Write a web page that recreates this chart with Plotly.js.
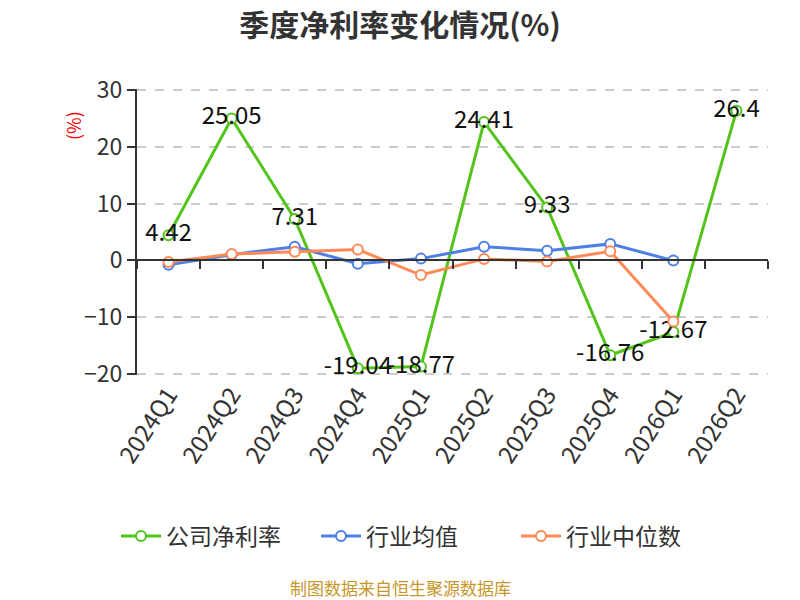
<!DOCTYPE html>
<html>
<head>
<meta charset="utf-8">
<script src="https://cdn.plot.ly/plotly-3.0.1.min.js"></script>
<style>
  html, body { margin: 0; padding: 0; background: #ffffff; }
  #chart { width: 800px; height: 600px; }
</style>
</head>
<body>
<div id="chart"></div>
<script>
  // Quarterly net margin data (%)
  var quarters = ['2024Q1', '2024Q2', '2024Q3', '2024Q4', '2025Q1', '2025Q2', '2025Q3', '2025Q4', '2026Q1', '2026Q2'];
  var companyMargin = [4.42, 25.05, 7.31, -19.04, -18.77, 24.41, 9.33, -16.76, -12.67, 26.4];
  var industryMean = [-0.8, 1.0, 2.4, -0.6, 0.3, 2.4, 1.7, 2.9, -0.05, null];
  var industryMedian = [-0.3, 1.1, 1.5, 1.9, -2.6, 0.25, -0.2, 1.6, -10.8, null];
  var seriesNames = ['公司净利率', '行业均值', '行业中位数'];
  var yTicks = [-20, -10, 0, 10, 20, 30];

  var fontFamily = '"Noto Sans CJK SC", "Noto Sans", sans-serif';
  var textColor = '#333333';
  var green = '#52c41a';
  var blue = '#4e7fe6';
  var orange = '#ff8a57';

  function lineTrace(name, values, color, withLabels, xaxisId) {
    var t = {
      x: quarters,
      y: values,
      name: name,
      type: 'scatter',
      xaxis: xaxisId,
      mode: withLabels ? 'lines+markers+text' : 'lines+markers',
      line: { color: color, width: 3 },
      marker: { symbol: 'circle', size: 10, color: '#ffffff', line: { color: color, width: 2 } },
      cliponaxis: false,
      hoverinfo: 'x+y'
    };
    if (withLabels) {
      t.text = values.map(function (v) { return String(v); });
      t.textposition = 'middle center';
      t.textfont = { family: fontFamily, size: 24, color: '#111111' };
    }
    return t;
  }

  var traces = [
    lineTrace(seriesNames[0], companyMargin, green, true, 'x'),
    lineTrace(seriesNames[1], industryMean, blue, false, 'x'),
    lineTrace(seriesNames[2], industryMedian, orange, false, 'x2')
  ];

  var catRange = [-0.5, quarters.length - 0.5];
  // small padding: plotly drops grid lines closer than 1px to the range ends
  var yRange = [yTicks[0] - 0.25, yTicks[yTicks.length - 1] + 0.25];

  var margin = { t: 89, r: 32, b: 225, l: 137 };
  var plotH = 600 - margin.t - margin.b;
  var plotW = 800 - margin.l - margin.r;
  function paperX(px) { return (px - margin.l) / plotW; }
  function paperY(py) { return (600 - py - margin.b) / plotH; }

  var layout = {
    width: 800,
    height: 600,
    paper_bgcolor: '#ffffff',
    plot_bgcolor: '#ffffff',
    font: { family: fontFamily, color: textColor },
    margin: margin,
    title: {
      text: '<b>季度净利率变化情况(%)</b>',
      font: { family: fontFamily, size: 30, color: textColor },
      x: 0.5,
      xanchor: 'center',
      xref: 'container',
      y: 1 - 25 / 600,
      yanchor: 'middle'
    },
    xaxis: {
      type: 'category',
      categoryorder: 'array',
      categoryarray: quarters,
      range: catRange,
      showgrid: false,
      showline: false,
      zeroline: false,
      ticks: '',
      tickangle: -57,
      tickfont: { family: fontFamily, size: 24, color: textColor }
    },
    // second category axis sitting on the zero line: axis line + boundary ticks
    xaxis2: {
      type: 'category',
      categoryorder: 'array',
      categoryarray: quarters,
      overlaying: 'x',
      anchor: 'free',
      position: (0 - yRange[0]) / (yRange[1] - yRange[0]),
      range: catRange,
      tickson: 'boundaries',
      ticks: 'outside',
      ticklen: 8,
      tickwidth: 2,
      tickcolor: textColor,
      showticklabels: false,
      showgrid: false,
      zeroline: false,
      showline: true,
      linecolor: textColor,
      linewidth: 2
    },
    yaxis: {
      range: yRange,
      tickmode: 'array',
      tickvals: yTicks,
      ticks: 'outside',
      ticklen: 8,
      tickwidth: 2,
      tickcolor: textColor,
      showline: true,
      linecolor: textColor,
      linewidth: 2,
      zeroline: false,
      showgrid: true,
      gridcolor: '#cccccc',
      gridwidth: 1.5,
      griddash: 'dash',
      tickfont: { family: fontFamily, size: 23, color: textColor }
    },
    showlegend: true,
    legend: {
      orientation: 'h',
      x: paperX(416),
      xanchor: 'center',
      y: paperY(536),
      yanchor: 'middle',
      font: { family: fontFamily, size: 23, color: textColor },
      itemwidth: 40,
      entrywidth: 145
    },
    annotations: [
      {
        text: '(%)',
        xref: 'paper',
        yref: 'paper',
        x: paperX(73),
        y: paperY(126),
        xanchor: 'center',
        yanchor: 'middle',
        showarrow: false,
        textangle: -90,
        font: { family: fontFamily, size: 18, color: '#ff0000' }
      },
      {
        text: '制图数据来自恒生聚源数据库',
        xref: 'paper',
        yref: 'paper',
        x: paperX(400),
        y: paperY(587),
        xanchor: 'center',
        yanchor: 'middle',
        showarrow: false,
        font: { family: fontFamily, size: 17, color: '#c8962a' }
      }
    ]
  };

  Plotly.newPlot('chart', traces, layout, { displayModeBar: false, responsive: false });
</script>
</body>
</html>
